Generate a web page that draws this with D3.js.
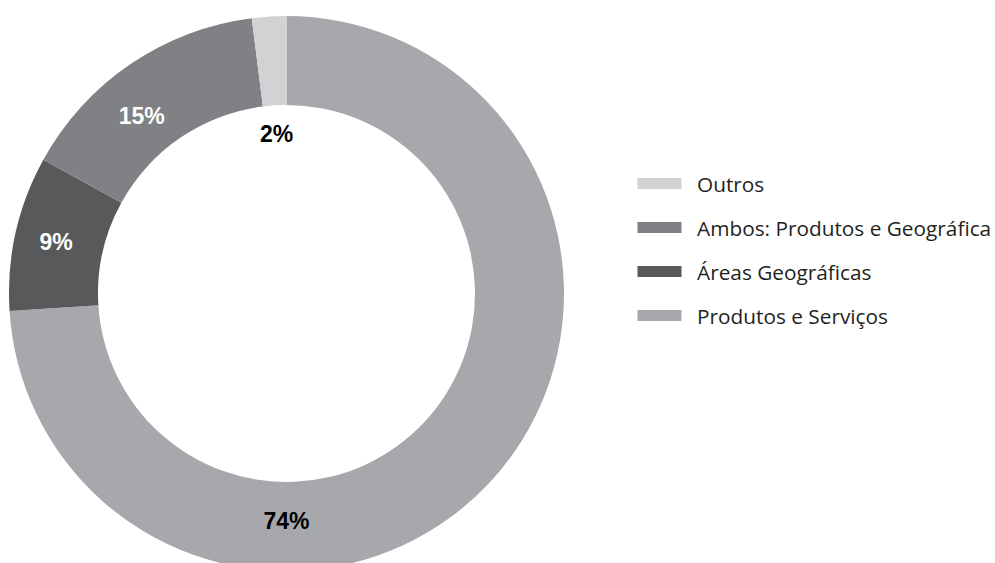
<!DOCTYPE html>
<html>
<head>
<meta charset="utf-8">
<script src="https://cdn.jsdelivr.net/npm/d3@7"></script>
<style>
  html, body { margin: 0; padding: 0; background: #fff; }
  svg { display: block; }
</style>
</head>
<body>
<svg id="chart" width="995" height="563"></svg>
<script>
// Share of segmentation criteria (percent), clockwise from 12 o'clock
const categories = ["Produtos e Serviços", "Áreas Geográficas", "Ambos: Produtos e Geográfica", "Outros"];
const values = [74, 9, 15, 2];
const sliceColors = ["#a7a8ab", "#58595b", "#808184", "#d1d2d4"];
const labelColors = ["#000000", "#ffffff", "#ffffff", "#000000"];
const labelTexts = ["74%", "9%", "15%", "2%"];

// Legend order (top to bottom)
const legendOrder = ["Outros", "Ambos: Produtos e Geográfica", "Áreas Geográficas", "Produtos e Serviços"];

const svg = d3.select("#chart");
const cx = 286.5, cy = 293.5;
const outerR = 277.5, innerR = 188.5;

const color = d3.scaleOrdinal().domain(categories).range(sliceColors);

const pie = d3.pie().sort(null).value(d => d.value);
const data = categories.map((c, i) => ({ name: c, value: values[i], label: labelTexts[i], labelColor: labelColors[i] }));
const arcs = pie(data);

const arc = d3.arc().innerRadius(innerR).outerRadius(outerR);

const g = svg.append("g").attr("transform", `translate(${cx},${cy})`);

g.selectAll("path.slice")
  .data(arcs)
  .join("path")
  .attr("class", "slice")
  .attr("d", arc)
  .attr("fill", d => color(d.data.name));

// Label placement: inside the ring for most slices; the big slice is labelled at
// the bottom, the tiny slice just inside the hole.
const deg = Math.PI / 180;
function labelPos(d, i) {
  let angle = (d.startAngle + d.endAngle) / 2;
  let r = 236;
  if (i === 0) { angle = Math.PI; r = 227; }
  if (i === 2) { angle -= 5 * deg; r = 229; }
  if (i === 3) r = innerR - 29;
  return [r * Math.sin(angle), -r * Math.cos(angle)];
}

g.selectAll("text.pct")
  .data(arcs)
  .join("text")
  .attr("class", "pct")
  .attr("x", (d, i) => labelPos(d, i)[0])
  .attr("y", (d, i) => labelPos(d, i)[1])
  .attr("text-anchor", "middle")
  .attr("dominant-baseline", "central")
  .attr("font-family", "'Liberation Sans', Arial, sans-serif")
  .attr("font-weight", "bold")
  .attr("font-size", 23)
  .attr("fill", d => d.data.labelColor)
  .text(d => d.data.label);

// Legend
const legendY = d3.scalePoint().domain(legendOrder).range([183.5, 315.5]);
const legend = svg.append("g");
const items = legend.selectAll("g.item")
  .data(legendOrder)
  .join("g")
  .attr("class", "item")
  .attr("transform", d => `translate(637.5,${legendY(d)})`);

items.append("rect")
  .attr("x", 0)
  .attr("y", -5.5)
  .attr("width", 44)
  .attr("height", 11)
  .attr("fill", d => color(d));

items.append("text")
  .attr("x", 59.5)
  .attr("y", 0)
  .attr("dominant-baseline", "central")
  .attr("font-family", "'Open Sans', 'Noto Sans', sans-serif")
  .attr("font-size", 20.8)
  .attr("fill", "#231f20")
  .text(d => d);
</script>
</body>
</html>
